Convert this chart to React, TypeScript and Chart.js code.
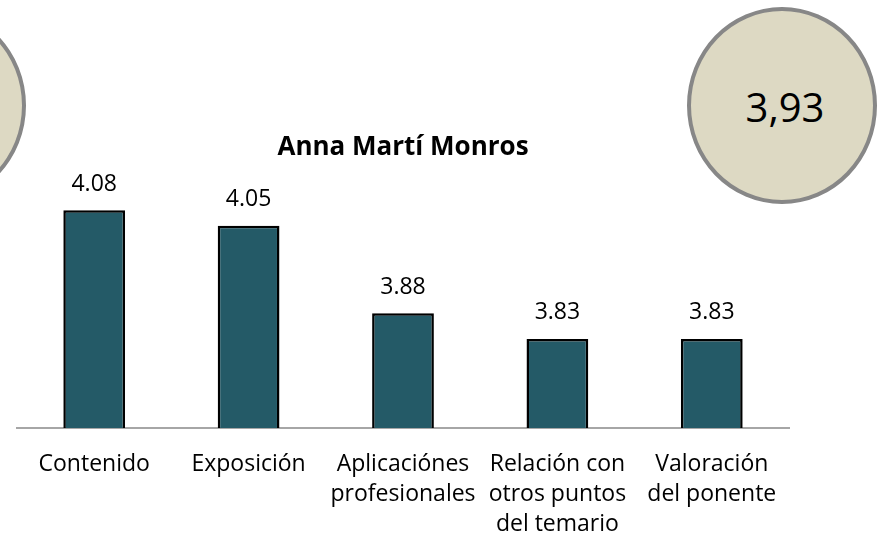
import React, { useEffect, useRef } from "react";
import { Chart, registerables } from "chart.js";

Chart.register(...registerables);

const categories: string[][] = [
  ["Contenido"],
  ["Exposición"],
  ["Aplicaciónes", "profesionales"],
  ["Relación con", "otros puntos", "del temario"],
  ["Valoración", "del ponente"],
];
const values: number[] = [4.08, 4.05, 3.88, 3.83, 3.83];
const chartTitle = "Anna Martí Monros";
const overallScore = "3,93";

const FONT = "'Open Sans', 'Noto Sans', sans-serif";

const valueLabels = {
  id: "valueLabels",
  afterDatasetsDraw(chart: any) {
    const ctx = chart.ctx;
    const meta = chart.getDatasetMeta(0);
    ctx.save();
    ctx.font = `23px ${FONT}`;
    ctx.fillStyle = "#000000";
    ctx.textAlign = "center";
    ctx.textBaseline = "alphabetic";
    meta.data.forEach((el: any, i: number) => {
      ctx.fillText(values[i].toFixed(2), el.x, el.y - 19.5);
    });
    ctx.restore();
  },
};

export default function App() {
  const ref = useRef<HTMLCanvasElement | null>(null);

  useEffect(() => {
    document.body.style.margin = "0";
    if (!ref.current) return;
    const chart = new Chart(ref.current, {
      type: "bar",
      data: {
        labels: categories,
        datasets: [
          {
            data: values,
            backgroundColor: "#245A67",
            borderColor: "#000000",
            borderWidth: 2.5,
            barPercentage: 0.4,
            categoryPercentage: 1,
          },
        ],
      },
      options: {
        responsive: false,
        animation: false,
        layout: { padding: { left: 17, right: 90, top: 132, bottom: 0 } },
        plugins: {
          legend: { display: false },
          tooltip: { enabled: false },
          title: {
            display: true,
            text: chartTitle,
            color: "#000000",
            font: { family: FONT, size: 26, weight: "bold", lineHeight: 1.2 },
            padding: 0,
          },
        },
        scales: {
          y: { display: false, min: 3.657, max: 4.1714 },
          x: {
            grid: { display: false, drawTicks: false },
            border: { display: true, color: "#A6A6A6", width: 2 },
            ticks: {
              color: "#000000",
              font: { family: FONT, size: 23, lineHeight: 1.3 },
              padding: 22,
              maxRotation: 0,
              autoSkip: false,
            },
            afterFit: (axis: any) => {
              axis.height = 113;
            },
          },
        },
      },
      plugins: [valueLabels],
    });
    return () => chart.destroy();
  }, []);

  const circle: React.CSSProperties = {
    position: "absolute",
    top: 7,
    width: 190,
    height: 197,
    boxSizing: "border-box",
    borderRadius: "50%",
    border: "4px solid #878787",
    background: "#DDD9C3",
    display: "flex",
    alignItems: "center",
    justifyContent: "center",
    fontFamily: FONT,
    fontSize: 40,
    color: "#000",
  };

  return (
    <div style={{ position: "relative", width: 879, height: 541, overflow: "hidden", background: "#fff" }}>
      <div style={{ ...circle, left: -164 }} />
      <div style={{ ...circle, left: 687 }}>
        <span style={{ position: "relative", top: 1, left: 3 }}>{overallScore}</span>
      </div>
      <canvas ref={ref} width={879} height={541} style={{ position: "absolute", left: 0, top: 0, width: 879, height: 541 }} />
    </div>
  );
}
